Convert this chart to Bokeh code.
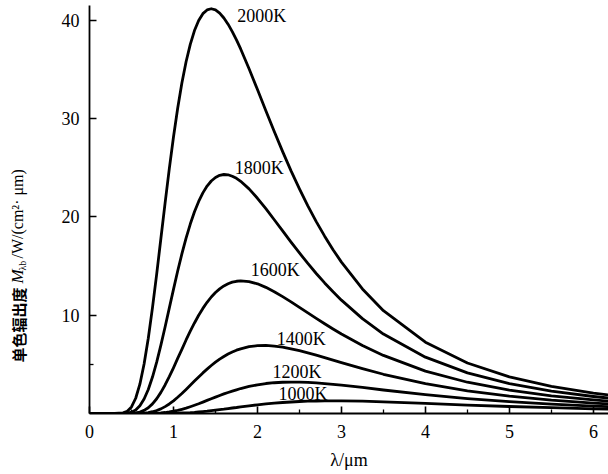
import math
from bokeh.plotting import figure
from bokeh.layouts import row
from bokeh.models import FixedTicker, Label
from bokeh.core.properties import value
from bokeh.embed import file_html
from bokeh.resources import INLINE

# wavelength samples (um)
wavelength = [0.0, 0.2, 0.3, 0.4, 0.45, 0.5, 0.55, 0.6, 0.65, 0.7, 0.75, 0.8, 0.85, 0.9, 0.95,
              1.0, 1.05, 1.1, 1.15, 1.2, 1.25, 1.3, 1.35, 1.4, 1.45, 1.5, 1.55, 1.6, 1.65,
              1.7, 1.75, 1.8, 1.9, 2.0, 2.1, 2.2, 2.3, 2.4, 2.5, 2.6, 2.7, 2.8, 2.9, 3.0,
              3.25, 3.5, 4.0, 4.5, 5.0, 5.5, 6.0, 6.2]

# spectral exitance W/(cm^2 um)
m_2000 = [0, 0, 0, 0.06, 0.23, 0.67, 1.55, 2.98, 5.03, 7.65, 10.77, 14.18, 17.80, 21.39, 24.89,
          28.12, 31.05, 33.61, 35.78, 37.55, 38.95, 39.97, 40.67, 41.05, 41.17, 41.06, 40.73, 40.23, 39.60,
          38.84, 38.00, 37.08, 35.07, 32.95, 30.80, 28.69, 26.64, 24.68, 22.85, 21.12, 19.52, 18.04, 16.66, 15.40,
          12.67, 10.46, 7.25, 5.14, 3.72, 2.76, 2.08, 1.86]
m_1800 = [0, 0, 0, 0.01, 0.04, 0.14, 0.36, 0.79, 1.47, 2.44, 3.71, 5.22, 6.95, 8.80, 10.72,
          12.63, 14.49, 16.23, 17.84, 19.27, 20.52, 21.57, 22.44, 23.13, 23.65, 24.01, 24.23, 24.31, 24.28,
          24.13, 23.92, 23.62, 22.85, 21.89, 20.83, 19.71, 18.57, 17.44, 16.33, 15.26, 14.24, 13.28, 12.38, 11.53,
          9.65, 8.08, 5.73, 4.13, 3.03, 2.27, 1.73, 1.55]
m_1600 = [0, 0, 0, 0, 0, 0.02, 0.06, 0.15, 0.32, 0.59, 0.98, 1.50, 2.15, 2.90, 3.75,
          4.65, 5.60, 6.53, 7.48, 8.37, 9.21, 9.99, 10.69, 11.31, 11.85, 12.30, 12.68, 12.98, 13.20,
          13.36, 13.45, 13.49, 13.42, 13.19, 12.83, 12.39, 11.89, 11.36, 10.80, 10.23, 9.68, 9.13, 8.60, 8.09,
          6.92, 5.91, 4.31, 3.18, 2.38, 1.80, 1.38, 1.25]
m_1400 = [0, 0, 0, 0, 0, 0, 0.01, 0.02, 0.04, 0.09, 0.18, 0.30, 0.47, 0.70, 0.97,
          1.29, 1.65, 2.03, 2.45, 2.87, 3.30, 3.72, 4.13, 4.51, 4.88, 5.22, 5.53, 5.80, 6.05,
          6.26, 6.44, 6.58, 6.80, 6.90, 6.92, 6.86, 6.74, 6.58, 6.39, 6.17, 5.93, 5.68, 5.43, 5.18,
          4.57, 3.99, 3.03, 2.30, 1.76, 1.36, 1.06, 0.96]
m_1200 = [0, 0, 0, 0, 0, 0, 0, 0, 0, 0.01, 0.02, 0.04, 0.06, 0.10, 0.16,
          0.23, 0.32, 0.43, 0.55, 0.69, 0.84, 0.99, 1.16, 1.33, 1.50, 1.66, 1.83, 1.99, 2.14,
          2.28, 2.41, 2.54, 2.75, 2.92, 3.05, 3.13, 3.18, 3.20, 3.19, 3.16, 3.11, 3.04, 2.97, 2.88,
          2.65, 2.39, 1.92, 1.52, 1.20, 0.95, 0.76, 0.69]
m_1000 = [0, 0, 0, 0, 0, 0, 0, 0, 0, 0, 0, 0, 0, 0.01, 0.01,
          0.02, 0.03, 0.05, 0.07, 0.09, 0.12, 0.16, 0.20, 0.24, 0.29, 0.34, 0.39, 0.44, 0.50,
          0.56, 0.61, 0.67, 0.78, 0.88, 0.97, 1.05, 1.12, 1.17, 1.22, 1.25, 1.27, 1.28, 1.29, 1.28,
          1.25, 1.19, 1.03, 0.86, 0.71, 0.59, 0.48, 0.45]

series_names = ["2000K", "1800K", "1600K", "1400K", "1200K", "1000K"]
series_vals = [m_2000, m_1800, m_1600, m_1400, m_1200, m_1000]

x_ticks = [0, 1, 2, 3, 4, 5, 6]
x_minor = [0.5, 1.5, 2.5, 3.5, 4.5, 5.5]
y_ticks = [10, 20, 30, 40]
y_minor = [5]

# curve-label anchor positions (data coords)
label_pos = [(1.76, 40.4), (1.73, 25.0), (1.92, 14.6), (2.23, 7.6), (2.18, 4.2), (2.25, 2.0)]

SERIF = "Liberation Serif"
W, H = 608, 474
LABEL_W = 40
FRAME_TOP, FRAME_BOTTOM = 5, 413

p = figure(width=W - LABEL_W, height=H, x_range=(0, 6.18), y_range=(0, 41.5),
           output_backend="svg", toolbar_location=None,
           min_border_left=89 - LABEL_W, min_border_right=0, min_border_top=FRAME_TOP,
           min_border_bottom=H - FRAME_BOTTOM)
p.outline_line_color = None
p.xgrid.visible = False
p.ygrid.visible = False

for name, vals, (lx, ly) in zip(series_names, series_vals, label_pos):
    p.line(wavelength, vals, line_color="black", line_width=2.8, line_join="round")
    p.add_layout(Label(x=lx, y=ly, text=name, text_font=SERIF, text_font_size="18px",
                       text_color="black", text_align="left", text_baseline="middle"))

p.xaxis.ticker = FixedTicker(ticks=x_ticks, minor_ticks=x_minor)
p.yaxis.ticker = FixedTicker(ticks=y_ticks, minor_ticks=y_minor)
for ax in (p.xaxis[0], p.yaxis[0]):
    ax.axis_line_color = "black"
    ax.axis_line_width = 1.8
    ax.major_tick_in = 7
    ax.major_tick_out = 0
    ax.minor_tick_in = 4
    ax.minor_tick_out = 0
    ax.major_tick_line_width = 1.6
    ax.minor_tick_line_width = 1.3
    ax.major_tick_line_color = "black"
    ax.minor_tick_line_color = "black"
    ax.major_label_text_font = SERIF
    ax.major_label_text_font_size = "18px"
    ax.major_label_text_color = "black"

p.xaxis.major_label_standoff = 11
p.yaxis.major_label_standoff = 10
p.xaxis.axis_label = "λ/μm"
p.xaxis.axis_label_text_font = SERIF
p.xaxis.axis_label_text_font_size = "18px"
p.xaxis.axis_label_text_font_style = "normal"
p.xaxis.axis_label_text_color = "black"
p.xaxis.axis_label_standoff = 9

# narrow panel holding the rotated y-axis title; its frame is aligned with the main frame,
# so its y range is expressed in page pixels (measured downward from the top, flipped)
t = figure(width=LABEL_W, height=H, x_range=(0, LABEL_W),
           y_range=(H - FRAME_BOTTOM, H - FRAME_TOP),
           output_backend="svg", toolbar_location=None,
           x_axis_location=None, y_axis_location=None,
           min_border_left=0, min_border_right=0, min_border_top=FRAME_TOP,
           min_border_bottom=H - FRAME_BOTTOM)
t.outline_line_color = None
t.xgrid.visible = False
t.ygrid.visible = False

rot = math.pi / 2
def title_piece(px, py, txt, font, size, style="normal"):
    t.text(x=[px], y=[H - py], text=[txt], angle=rot,
           text_font=value(font), text_font_size=value(size), text_font_style=style,
           text_color="black", text_align="left", text_baseline="middle")

title_piece(18, 362, "单色辐出度", "Noto Sans CJK SC", "15px", "bold")
title_piece(17, 283, "M", SERIF, "17px", "italic")
title_piece(22, 270, "λb", SERIF, "10px")
title_piece(17, 258, "/W/(cm²· μm)", SERIF, "16px")

layout = row(t, p)
open("out.html", "w").write(file_html(layout, INLINE))
